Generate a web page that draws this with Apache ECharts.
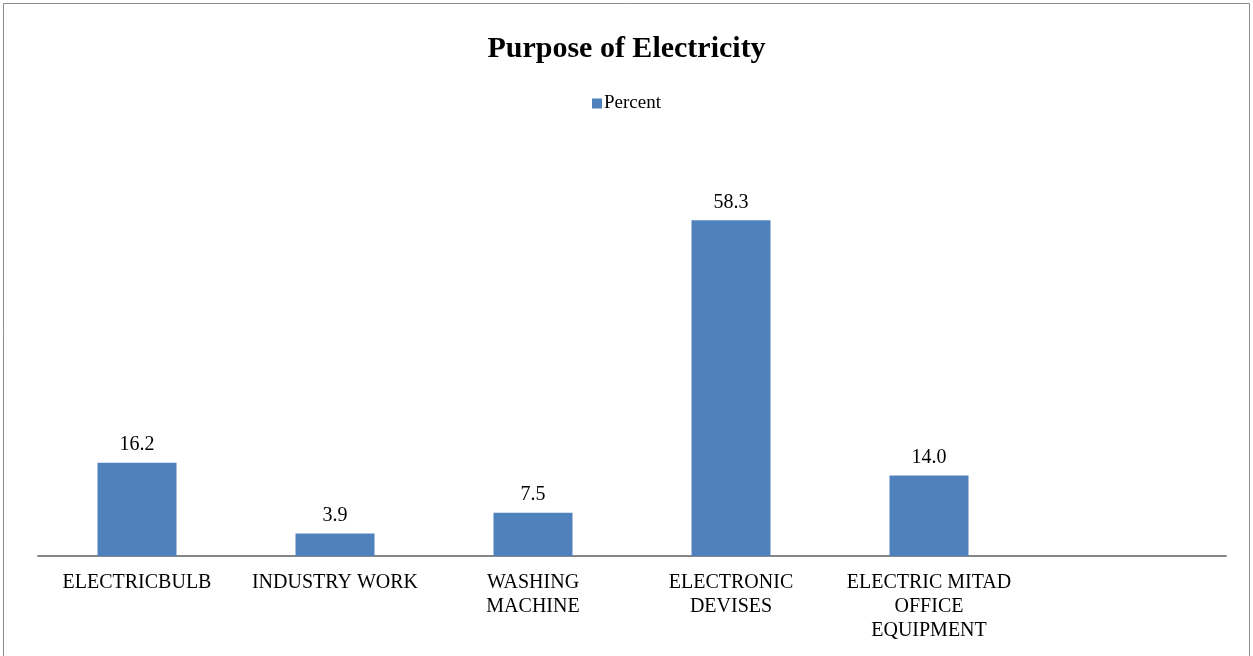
<!DOCTYPE html>
<html>
<head>
<meta charset="utf-8">
<script src="https://cdn.jsdelivr.net/npm/echarts@6/dist/echarts.min.js"></script>
<style>
  html, body { margin: 0; padding: 0; background: #fff; }
  #chart { width: 1253px; height: 656px; }
</style>
</head>
<body>
<div id="chart"></div>
<script>
// Share of respondents by purpose of electricity use
const categories = [
  'ELECTRICBULB',
  'INDUSTRY WORK',
  'WASHING\nMACHINE',
  'ELECTRONIC\nDEVISES',
  'ELECTRIC MITAD\nOFFICE\nEQUIPMENT',
  ''
];
const percentValues = [16.2, 3.9, 7.5, 58.3, 14.0, null];
const seriesName = 'Percent';
const titleText = 'Purpose of Electricity';

const serif = '"Liberation Serif", "Times New Roman", serif';
const chart = echarts.init(document.getElementById('chart'));

chart.setOption({
  animation: false,
  backgroundColor: '#ffffff',
  title: {
    text: titleText,
    left: 'center',
    top: 29,
    textStyle: { fontFamily: serif, fontSize: 30, fontWeight: 'bold', color: '#000' }
  },
  legend: {
    data: [seriesName],
    top: 89,
    left: 'center',
    icon: 'rect',
    itemWidth: 10,
    itemHeight: 10,
    itemGap: 4,
    textStyle: { fontFamily: serif, fontSize: 19, color: '#000', padding: [0, 0, 0, -3] }
  },
  grid: { left: 38, right: 27, top: 153, bottom: 100 },
  xAxis: {
    type: 'category',
    data: categories,
    axisLine: { lineStyle: { color: '#868686', width: 2 } },
    axisTick: { show: false },
    axisLabel: {
      interval: 0,
      margin: 15,
      fontFamily: serif,
      fontSize: 20,
      lineHeight: 24,
      color: '#000',
      align: 'center'
    }
  },
  yAxis: {
    type: 'value',
    min: 0,
    max: 70,
    show: false,
    splitLine: { show: false }
  },
  series: [{
    name: seriesName,
    type: 'bar',
    data: percentValues,
    barWidth: 79,
    itemStyle: { color: '#4f81bd' },
    label: {
      show: true,
      position: 'top',
      distance: 8,
      formatter: p => p.value == null ? '' : p.value.toFixed(1),
      fontFamily: serif,
      fontSize: 20,
      color: '#000'
    }
  }],
  graphic: [{
    type: 'rect',
    shape: { x: 3.5, y: 3.5, width: 1246, height: 660 },
    style: { fill: 'none', stroke: '#8c8c8c', lineWidth: 1 },
    silent: true
  }]
});
</script>
</body>
</html>
